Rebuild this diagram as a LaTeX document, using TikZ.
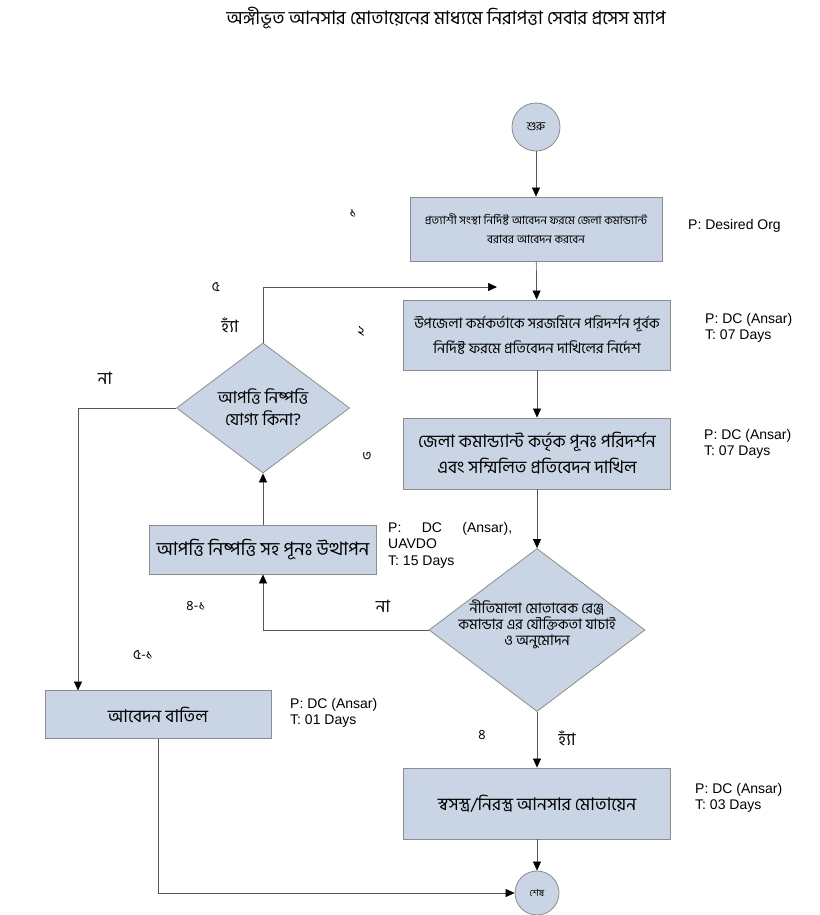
\documentclass[tikz,border=0pt]{standalone}
\usepackage{fontspec}
\setmainfont{Liberation Sans}
\newfontfamily\bn[Script=Bengali]{Hind Siliguri}
\usetikzlibrary{shapes.geometric,arrows.meta}
\definecolor{boxfill}{HTML}{C9D4E4}
\definecolor{boxline}{HTML}{8C8C8C}
\definecolor{conn}{HTML}{555555}
\tikzset{
  procbox/.style={draw=boxline, fill=boxfill, line width=0.8pt, inner sep=0pt, align=center},
  decbox/.style={draw=boxline, fill=boxfill, line width=0.8pt, diamond, inner sep=0pt, align=center},
  termc/.style={draw=boxline, fill=boxfill, line width=0.8pt, circle, inner sep=0pt},
  arr/.style={draw=conn, line width=0.7pt, -{Triangle[length=9pt,width=8pt,color=black]}},
  info/.style={font=\fontsize{14}{16.5}\selectfont, align=left, inner sep=0pt},
  num/.style={font=\bn\fontsize{14}{15}\selectfont, inner sep=0pt},
  yn/.style={font=\bn\fontsize{17}{18}\selectfont, inner sep=0pt}
}
\begin{document}
\begin{tikzpicture}[x=1pt,y=-1pt]
\useasboundingbox (0,0) rectangle (819,915);
\node (title) at (446,18) {\bn\fontsize{18.5}{20}\selectfont অঙ্গীভূত আনসার মোতায়েনের মাধ্যমে নিরাপত্তা সেবার প্রসেস ম্যাপ};

\node[termc, minimum size=48pt, font=\bn\fontsize{12}{13}\selectfont] (start) at (536,127) {শুরু};
\node[procbox, minimum width=252pt, minimum height=64pt, font=\bn\fontsize{11.5}{19}\selectfont] (b1) at (536,229)
  {প্রত্যাশী সংস্থা নির্দিষ্ট আবেদন ফরমে জেলা কমান্ড্যান্ট\\বরাবর আবেদন করবেন};
\node[procbox, minimum width=267pt, minimum height=70pt, font=\bn\fontsize{14.5}{25}\selectfont] (b2) at (537,335)
  {উপজেলা কর্মকর্তাকে সরজমিনে পরিদর্শন পূর্বক\\নির্দিষ্ট ফরমে প্রতিবেদন দাখিলের নির্দেশ};
\node[procbox, minimum width=267pt, minimum height=71pt, font=\bn\fontsize{17.5}{26}\selectfont] (b3) at (537,453.5)
  {জেলা কমান্ড্যান্ট কর্তৃক পূনঃ পরিদর্শন\\এবং সম্মিলিত প্রতিবেদন দাখিল};
\node[decbox, minimum width=216pt, minimum height=163pt] (d2) at (537,630) {};
\node[align=center, inner sep=0pt, font=\bn\fontsize{14.5}{16}\selectfont] (d2t) at (537,624)
  {নীতিমালা মোতাবেক রেঞ্জ\\কমান্ডার এর যৌক্তিকতা যাচাই\\ও অনুমোদন};
\node[decbox, minimum width=173pt, minimum height=130pt] (d1) at (263,408) {};
\node[align=center, inner sep=0pt, font=\bn\fontsize{16.8}{22}\selectfont] (d1t) at (263,407)
  {আপত্তি নিষ্পত্তি\\যোগ্য কিনা?};
\node[procbox, minimum width=227pt, minimum height=49pt, font=\bn\fontsize{18.5}{20}\selectfont] (b4) at (263,549.5)
  {আপত্তি নিষ্পত্তি সহ পূনঃ উত্থাপন};
\node[procbox, minimum width=226pt, minimum height=48pt, font=\bn\fontsize{17.5}{20}\selectfont] (b5) at (158,714.5)
  {আবেদন বাতিল};
\node[procbox, minimum width=267pt, minimum height=71pt, font=\bn\fontsize{17.5}{20}\selectfont] (b6) at (537,803.5)
  {স্বসস্ত্র/নিরস্ত্র আনসার মোতায়েন};
\node[termc, minimum size=44pt, font=\bn\fontsize{9.5}{10}\selectfont] (end) at (537,893) {শেষ};

\coordinate (fb) at (497,287);
\coordinate (b5in) at (78,690.5);

\draw[arr] (start) -- (b1);
\draw[arr] (b1) -- (b2);
\draw[arr] (b2) -- (b3);
\draw[arr] (b3) -- (d2);
\draw[arr] (d2.west) -| (b4.south);
\draw[arr] (b4) -- (d1);
\draw[arr] (d1.north) |- (fb);
\draw[arr] (d1.west) -| (b5in);
\draw[arr] (d2) -- (b6);
\draw[arr] (b6) -- (end);
\draw[arr] (b5.south) |- (end.west);

\node[num] (n1) at (353,213) {১};
\node[num] (n5) at (216,287) {৫};
\node[num] (n2) at (361,331) {২};
\node[num] (n3) at (367,456) {৩};
\node[num] (n41) at (196,606) {৪-১};
\node[num] (n51) at (143,655) {৫-১};
\node[num] (n4) at (482,735) {৪};
\node[yn] (y1) at (230,325) {হ্যাঁ};
\node[yn] (y2) at (567,738) {হ্যাঁ};
\node[yn] (no1) at (105,378) {না};
\node[yn] (no2) at (383,606) {না};

\node[info, anchor=west] (i1) at (688,226) {P: Desired Org};
\node[info, anchor=west] (i2) at (705,328) {P: DC (Ansar)\\T: 07 Days};
\node[info, anchor=west] (i3) at (704,444) {P: DC (Ansar)\\T: 07 Days};
\node[info, anchor=north west] (i4) at (388,522) {\makebox[124pt][s]{P:\hfill DC\hfill (Ansar),}\\UAVDO\\T: 15 Days};
\node[info, anchor=west] (i5) at (290,713) {P: DC (Ansar)\\T: 01 Days};
\node[info, anchor=west] (i6) at (695,798) {P: DC (Ansar)\\T: 03 Days};
\end{tikzpicture}
\end{document}
